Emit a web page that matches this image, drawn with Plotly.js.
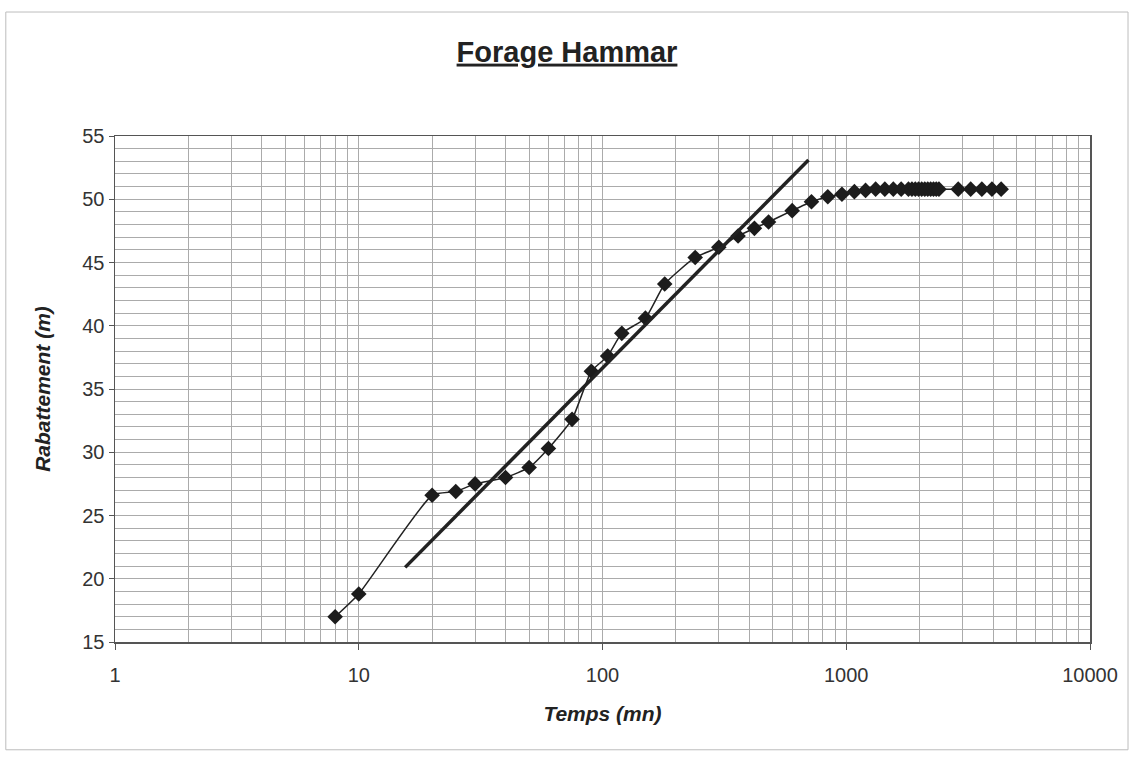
<!DOCTYPE html>
<html>
<head>
<meta charset="utf-8">
<script src="https://cdn.plot.ly/plotly-3.0.1.min.js"></script>
<style>
  html, body { margin: 0; padding: 0; background: #fff; }
  #chart { width: 1134px; height: 757px; }
</style>
</head>
<body>
<div id="chart"></div>
<script>
// Observed drawdown data (time in minutes, drawdown in metres)
var temps = [8, 10, 20, 25, 30, 40, 50, 60, 75, 90, 105, 120, 150, 180, 240, 300, 360, 420, 480, 600, 720, 840, 960, 1080, 1200, 1320, 1440, 1560, 1680, 1800, 1860, 1920, 1980, 2040, 2100, 2160, 2220, 2280, 2340, 2400, 2880, 3240, 3600, 3960, 4320];
var rabattement = [17.0, 18.8, 26.6, 26.9, 27.5, 28.0, 28.8, 30.3, 32.6, 36.4, 37.6, 39.4, 40.6, 43.3, 45.4, 46.2, 47.1, 47.7, 48.2, 49.1, 49.8, 50.2, 50.4, 50.6, 50.7, 50.8, 50.8, 50.8, 50.8, 50.8, 50.8, 50.8, 50.8, 50.8, 50.8, 50.8, 50.8, 50.8, 50.8, 50.8, 50.8, 50.8, 50.8, 50.8, 50.8];

// Straight-line (Jacob) fit
var fitTemps = [15.5, 700];
var fitRabattement = [20.9, 53.1];

// Axis ticks
var xTickVals = [1, 10, 100, 1000, 10000];
var xTickText = ['1', '10', '100', '1000', '10000'];
var yTickVals = [15, 20, 25, 30, 35, 40, 45, 50, 55];

var font = 'Liberation Sans, Arial, sans-serif';
var gridCol = '#ababab';

var traces = [
  {
    x: temps, y: rabattement, type: 'scatter', mode: 'lines+markers',
    line: {color: '#222', width: 1.5, shape: 'spline', smoothing: 0.5},
    marker: {symbol: 'diamond', size: 12, color: '#1c1c1c'},
    hoverinfo: 'x+y', showlegend: false
  },
  {
    x: fitTemps, y: fitRabattement, type: 'scatter', mode: 'lines',
    line: {color: '#222', width: 3.5},
    hoverinfo: 'skip', showlegend: false
  }
];

var layout = {
  width: 1134, height: 757,
  paper_bgcolor: '#ffffff', plot_bgcolor: '#ffffff',
  margin: {l: 115, r: 44, t: 136, b: 115},
  font: {family: font, color: '#333'},
  title: {
    text: '<b><u>Forage Hammar</u></b>',
    font: {family: font, size: 29, color: '#222'},
    x: 0.5, xanchor: 'center', y: 0.932, yanchor: 'middle'
  },
  xaxis: {
    type: 'log', range: [0, 4],
    tickmode: 'array', tickvals: xTickVals, ticktext: xTickText,
    ticks: 'outside', ticklen: 6, tickcolor: '#555', tickwidth: 1,
    ticklabelstandoff: 8,
    tickfont: {family: font, size: 20, color: '#333'},
    showgrid: true, gridcolor: gridCol, gridwidth: 1,
    minor: {dtick: 'D1', showgrid: true, gridcolor: gridCol, gridwidth: 1, ticks: ''},
    showline: true, linecolor: '#555', linewidth: 1.5, mirror: true,
    zeroline: false,
    title: {text: '<b><i>Temps (mn)</i></b>', font: {family: font, size: 21, color: '#222'}, standoff: 22}
  },
  yaxis: {
    range: [15, 55],
    tickmode: 'array', tickvals: yTickVals,
    ticks: 'outside', ticklen: 5, tickcolor: '#555', tickwidth: 1,
    tickfont: {family: font, size: 20, color: '#333'},
    showgrid: true, gridcolor: gridCol, gridwidth: 1,
    minor: {dtick: 1, showgrid: true, gridcolor: gridCol, gridwidth: 1, ticks: ''},
    showline: true, linecolor: '#555', linewidth: 1.5, mirror: true,
    zeroline: false,
    title: {text: '<b><i>Rabattement (m)</i></b>', font: {family: font, size: 21, color: '#222'}, standoff: 26}
  },
  shapes: [
    {type: 'rect', xref: 'paper', yref: 'paper',
     x0: -0.112, x1: 1.039, y0: -0.213, y1: 1.245,
     line: {color: '#bdbdbd', width: 1}, fillcolor: 'rgba(0,0,0,0)', layer: 'below'}
  ]
};

Plotly.newPlot('chart', traces, layout, {displayModeBar: false, staticPlot: true});
</script>
</body>
</html>
